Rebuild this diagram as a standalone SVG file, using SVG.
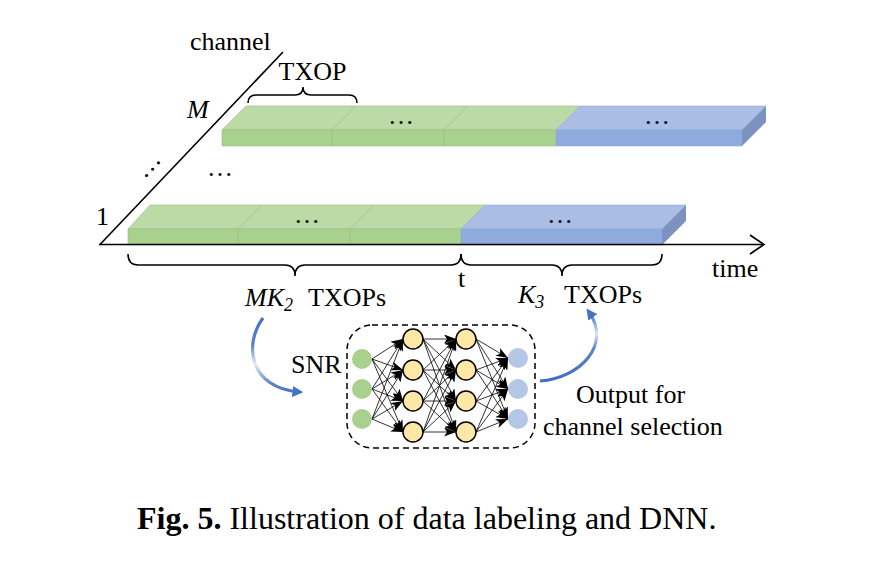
<svg xmlns="http://www.w3.org/2000/svg" width="885" height="561" viewBox="0 0 885 561">
<style>
text{font-family:"Liberation Serif","Times New Roman",serif;font-size:26px;fill:#000}
.it{font-style:italic}
.sub{font-size:18px;font-style:italic}
.cap{font-size:32px}
.gt{fill:#BBDAA6;stroke:#9EBB8C;stroke-width:0.6}
.gf{fill:#A9D18E;stroke:#9EBB8C;stroke-width:0.6}
.bt{fill:#A9BDE5;stroke:#97ACD6;stroke-width:0.6}
.bf{fill:#8FAADC;stroke:#8FAADC;stroke-width:0.6}
.bs{fill:#7D93BF}
.ax{stroke:#000;stroke-width:1.6;fill:none}
.br{stroke:#000;stroke-width:1.5;fill:none}
.nn line{stroke:#000;stroke-width:0.8;marker-end:url(#ah)}
.in{fill:#A9D18E}
.hd{fill:#FFE8A6;stroke:#000;stroke-width:1.5}
.out{fill:#B4C7E7}
.cv{fill:none;stroke-width:3.2}
</style>
<defs>
<marker id="ah" viewBox="0 0 12 9" refX="12" refY="4.5" markerWidth="12" markerHeight="9" markerUnits="userSpaceOnUse" orient="auto">
<path d="M0,0 L12,4.5 L0,9 L3,4.5 Z" fill="#000"/>
</marker>
<marker id="bh" viewBox="0 0 10 10" refX="6" refY="5" markerWidth="11" markerHeight="11" markerUnits="userSpaceOnUse" orient="auto">
<path d="M0,0 L10,5 L0,10 Z" fill="#4472C4"/>
</marker>
<linearGradient id="gl" gradientUnits="userSpaceOnUse" x1="0" y1="318" x2="0" y2="395">
<stop offset="0" stop-color="#4472C4"/>
<stop offset="0.35" stop-color="#5A83CC"/>
<stop offset="0.6" stop-color="#E6ECF7"/>
<stop offset="0.85" stop-color="#5A83CC"/>
<stop offset="1" stop-color="#4472C4"/>
</linearGradient>
<linearGradient id="gr" gradientUnits="userSpaceOnUse" x1="0" y1="382" x2="0" y2="308">
<stop offset="0" stop-color="#3F6DBF"/>
<stop offset="0.45" stop-color="#5A83CC"/>
<stop offset="0.65" stop-color="#DDE5F4"/>
<stop offset="0.85" stop-color="#6A8FD0"/>
<stop offset="1" stop-color="#4472C4"/>
</linearGradient>
</defs>
<rect width="885" height="561" fill="#fff"/>

<g id="rowM">
<polygon class="gt" points="222,130 246,106 356,106 332,130"/>
<rect class="gf" x="222" y="130" width="110" height="16"/>
<polygon class="gt" points="332,130 356,106 468,106 444,130"/>
<rect class="gf" x="332" y="130" width="112" height="16"/>
<polygon class="gt" points="444,130 468,106 580,106 556,130"/>
<rect class="gf" x="444" y="130" width="112" height="16"/>
<polygon class="bt" points="556,130 580,106 766,106 742,130"/>
<rect class="bf" x="556" y="130" width="186" height="16"/>
<polygon class="bs" points="742,130 766,106 766,122 742,146"/>
<text x="401" y="124" text-anchor="middle">…</text>
<text x="657" y="124" text-anchor="middle">…</text>
</g>

<g id="row1">
<polygon class="gt" points="128,229 150,205 262,205 238,229"/>
<rect class="gf" x="128" y="229" width="110" height="16"/>
<polygon class="gt" points="238,229 262,205 374,205 350,229"/>
<rect class="gf" x="238" y="229" width="112" height="16"/>
<polygon class="gt" points="350,229 374,205 485,205 461,229"/>
<rect class="gf" x="350" y="229" width="111" height="16"/>
<polygon class="bt" points="461,229 485,205 686,205 662,229"/>
<rect class="bf" x="461" y="229" width="201" height="16"/>
<polygon class="bs" points="662,229 686,205 686,221 662,245"/>
<text x="307" y="223" text-anchor="middle">…</text>
<text x="560" y="223" text-anchor="middle">…</text>
</g>

<g id="axes">
<line class="ax" x1="99.5" y1="245" x2="283" y2="52"/>
<line class="ax" x1="99" y1="244.5" x2="763" y2="244.5"/>
<polyline class="ax" points="750,235 764,244.5 750,254" stroke-width="1.8"/>
<text x="190" y="50">channel</text>
<text x="712" y="277">time</text>
<text class="it" x="187" y="118">M</text>
<text x="96" y="225">1</text>
<text x="149" y="172" text-anchor="middle" transform="rotate(-47 149 166)">…</text>
<text x="220" y="176" text-anchor="middle">…</text>
</g>

<g id="braces">
<path class="br" d="M248,103 Q248,95 256,95 L295,95 Q303,95 303,87 Q303,95 311,95 L349,95 Q357,95 357,103"/>
<text x="312.5" y="80" text-anchor="middle">TXOP</text>
<path class="br" d="M128,254 Q128,265 138,265 L285,265 Q295,265 295,276 Q295,265 305,265 L451,265 Q461,265 461,254"/>
<path class="br" d="M461,254 Q461,265 471,265 L552,265 Q562,265 562,276 Q562,265 572,265 L652,265 Q662,265 662,254"/>
<text x="461.5" y="287" text-anchor="middle">t</text>
<text x="245" y="306"><tspan class="it">MK</tspan><tspan class="sub" dy="5">2</tspan><tspan x="308" dy="-5">TXOPs</tspan></text>
<text x="518" y="303"><tspan class="it">K</tspan><tspan class="sub" dy="5">3</tspan><tspan x="564" dy="-5">TXOPs</tspan></text>
</g>

<g id="dnn">
<rect x="347" y="325" width="188" height="123" rx="25" ry="25" fill="none" stroke="#000" stroke-width="1.5" stroke-dasharray="6,4"/>
<text x="291" y="373">SNR</text>
<text x="576" y="403">Output for</text>
<text x="543" y="435">channel selection</text>
</g>

<g id="connectors" class="nn">
<line x1="372" y1="359" x2="403" y2="339"/><line x1="372" y1="359" x2="403" y2="370"/><line x1="372" y1="359" x2="403" y2="401"/><line x1="372" y1="359" x2="403" y2="432"/>
<line x1="372" y1="389" x2="403" y2="339"/><line x1="372" y1="389" x2="403" y2="370"/><line x1="372" y1="389" x2="403" y2="401"/><line x1="372" y1="389" x2="403" y2="432"/>
<line x1="372" y1="419" x2="403" y2="339"/><line x1="372" y1="419" x2="403" y2="370"/><line x1="372" y1="419" x2="403" y2="401"/><line x1="372" y1="419" x2="403" y2="432"/>
<line x1="423" y1="339" x2="456" y2="339"/><line x1="423" y1="339" x2="456" y2="370"/><line x1="423" y1="339" x2="456" y2="401"/><line x1="423" y1="339" x2="456" y2="432"/>
<line x1="423" y1="370" x2="456" y2="339"/><line x1="423" y1="370" x2="456" y2="370"/><line x1="423" y1="370" x2="456" y2="401"/><line x1="423" y1="370" x2="456" y2="432"/>
<line x1="423" y1="401" x2="456" y2="339"/><line x1="423" y1="401" x2="456" y2="370"/><line x1="423" y1="401" x2="456" y2="401"/><line x1="423" y1="401" x2="456" y2="432"/>
<line x1="423" y1="432" x2="456" y2="339"/><line x1="423" y1="432" x2="456" y2="370"/><line x1="423" y1="432" x2="456" y2="401"/><line x1="423" y1="432" x2="456" y2="432"/>
<line x1="476" y1="339" x2="508" y2="358"/><line x1="476" y1="339" x2="508" y2="389"/><line x1="476" y1="339" x2="508" y2="419"/>
<line x1="476" y1="370" x2="508" y2="358"/><line x1="476" y1="370" x2="508" y2="389"/><line x1="476" y1="370" x2="508" y2="419"/>
<line x1="476" y1="401" x2="508" y2="358"/><line x1="476" y1="401" x2="508" y2="389"/><line x1="476" y1="401" x2="508" y2="419"/>
<line x1="476" y1="432" x2="508" y2="358"/><line x1="476" y1="432" x2="508" y2="389"/><line x1="476" y1="432" x2="508" y2="419"/>
<path class="cv" d="M263,318 C243,345 250,388 299,392" stroke="url(#gl)" style="marker-end:url(#bh)"/>
<path class="cv" d="M540,381 C580,378 612,345 589,312" stroke="url(#gr)" style="marker-end:url(#bh)"/>
</g>

<g id="layer-in">
<circle class="in" cx="362" cy="359" r="10"/>
<circle class="in" cx="362" cy="389" r="10"/>
<circle class="in" cx="362" cy="419" r="10"/>
</g>
<g id="layer-h1">
<circle class="hd" cx="413" cy="339" r="10"/>
<circle class="hd" cx="413" cy="370" r="10"/>
<circle class="hd" cx="413" cy="401" r="10"/>
<circle class="hd" cx="413" cy="432" r="10"/>
</g>
<g id="layer-h2">
<circle class="hd" cx="466" cy="339" r="10"/>
<circle class="hd" cx="466" cy="370" r="10"/>
<circle class="hd" cx="466" cy="401" r="10"/>
<circle class="hd" cx="466" cy="432" r="10"/>
</g>
<g id="layer-out">
<circle class="out" cx="518" cy="358" r="10"/>
<circle class="out" cx="518" cy="389" r="10"/>
<circle class="out" cx="518" cy="419" r="10"/>
</g>

<g id="caption">
<text class="cap" x="137" y="529"><tspan font-weight="bold">Fig. 5.</tspan> Illustration of data labeling and DNN.</text>
</g>
</svg>
